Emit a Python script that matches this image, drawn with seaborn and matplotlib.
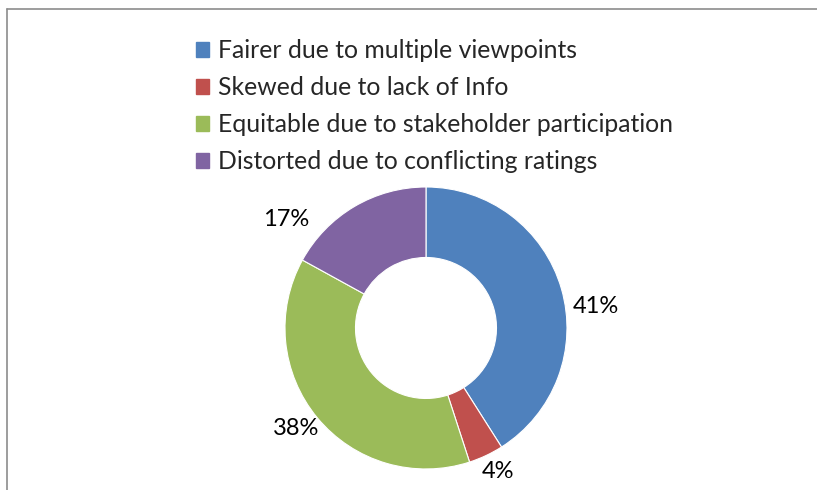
import matplotlib
matplotlib.use("Agg")
import matplotlib.pyplot as plt
import seaborn as sns
from matplotlib.patches import Patch
from matplotlib.lines import Line2D

# ================================
# Data
# ================================
categories = [
    "Fairer due to multiple viewpoints",
    "Skewed due to lack of Info",
    "Equitable due to stakeholder participation",
    "Distorted due to conflicting ratings",
]
shares = [41, 4, 38, 17]
colors = ["#4F81BD", "#C0504D", "#9BBB59", "#8064A2"]

sns.set_style("white")
plt.rcParams["font.family"] = ["Lato", "DejaVu Sans"]

fig = plt.figure(figsize=(8.17, 4.9), dpi=100)

# donut axes placed around the centre of the ring
ax = fig.add_axes([0.3488, 0.0429, 0.3452, 0.5755])
wedges, texts, autotexts = ax.pie(
    shares,
    colors=colors,
    startangle=90,
    counterclock=False,
    radius=1.0,
    wedgeprops=dict(width=0.5, edgecolor="white", linewidth=0.8),
    autopct=lambda p: f"{p:.0f}%",
    pctdistance=1.2,
    textprops=dict(fontsize=17, color="black"),
)
# nudge the outside labels a bit, like Excel's best-fit placement
nudges = [(0.05, -0.18), (0.0, 0.07), (0.0, 0.05), (-0.38, -0.26)]
for t, (dx, dy) in zip(autotexts, nudges):
    x, y = t.get_position()
    t.set_position((x + dx, y + dy))

ax.set_xlim(-1, 1)
ax.set_ylim(-1, 1)
ax.set_aspect("equal")
ax.axis("off")

# legend on top
handles = [Patch(facecolor=c, edgecolor=c) for c in colors]
fig.legend(
    handles, categories,
    loc="upper left", bbox_to_anchor=(0.2245, 0.945),
    frameon=False, fontsize=17.8,
    handlelength=0.55, handleheight=0.55, handletextpad=0.35,
    labelspacing=0.56, borderpad=0,
)

# chart frame (left and top edges visible)
fig.add_artist(Line2D([7 / 817, 7 / 817], [0, 1 - 9 / 490], transform=fig.transFigure,
                      color="#8c8c8c", lw=1.2))
fig.add_artist(Line2D([7 / 817, 1], [1 - 9 / 490, 1 - 9 / 490], transform=fig.transFigure,
                      color="#8c8c8c", lw=1.2))

fig.savefig("out.png", dpi=100, facecolor="white")
